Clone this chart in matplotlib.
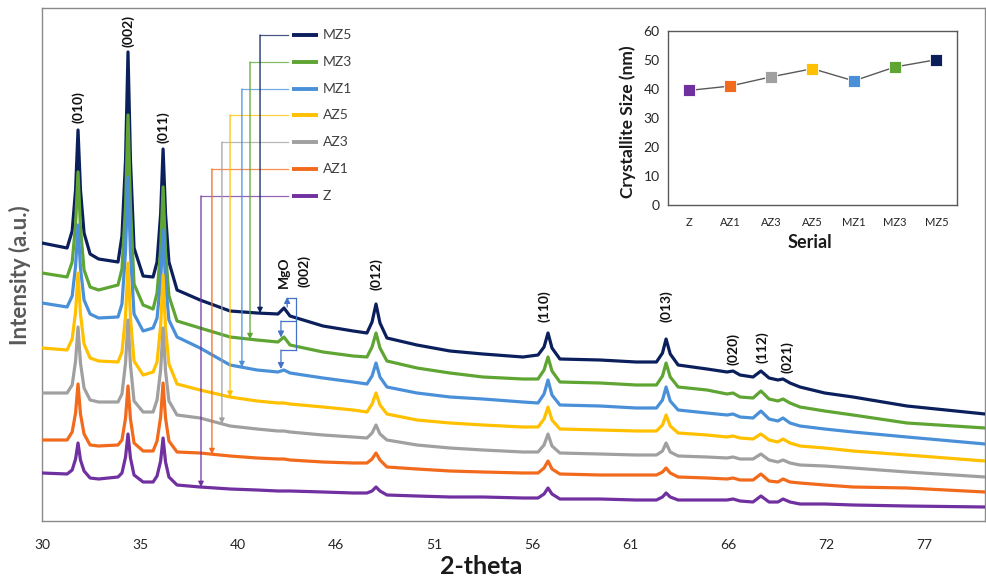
import numpy as np
import matplotlib
matplotlib.use('Agg')
import matplotlib.pyplot as plt

plt.rcParams['font.family'] = ['Lato', 'DejaVu Sans']

# ---------------- data ----------------
two_theta = [30.00, 31.33, 31.60, 31.78, 31.91, 32.04, 32.23, 32.55, 33.00, 34.03,
             34.24, 34.43, 34.56, 34.69, 34.88, 35.36, 35.89, 36.10, 36.29, 36.42,
             36.55, 36.73, 37.16, 38.38, 39.97, 41.40, 42.51, 42.83, 43.15, 44.90,
             46.50, 47.23, 47.50, 47.71, 47.92, 48.29, 49.88, 51.63, 53.38, 55.50,
             56.30, 56.62, 56.83, 57.04, 57.46, 59.59, 61.50, 62.58, 62.90, 63.09,
             63.31, 63.73, 65.26, 66.32, 66.64, 67.01, 67.70, 68.12, 68.55, 69.02,
             69.29, 69.66, 70.19, 71.50, 73.00, 75.86, 80.00]

MZ5 = [278, 273, 290, 331, 391, 331, 288, 267, 262, 259,
       285, 361, 469, 361, 273, 245, 244, 259, 307, 372,
       307, 259, 231, 221, 210, 208, 207, 213, 205, 195,
       190, 188, 199, 217, 198, 183, 176, 170, 167, 164,
       166, 174, 188, 173, 162, 161, 159, 159, 168, 182,
       167, 156, 152, 149, 150, 146, 144, 150, 143, 141,
       142, 138, 134, 128, 124, 115, 107]
MZ3 = [248, 244, 259, 296, 349, 293, 251, 234, 231, 236,
       252, 315, 406, 315, 237, 216, 212, 228, 271, 334,
       269, 225, 200, 193, 184, 181, 179, 184, 176, 169,
       165, 164, 174, 188, 173, 160, 153, 148, 144, 142,
       142, 151, 164, 150, 139, 138, 136, 136, 145, 158,
       144, 134, 131, 127, 128, 124, 123, 130, 122, 120,
       122, 118, 114, 110, 106, 98, 93]
MZ1 = [218, 214, 225, 255, 296, 253, 221, 207, 203, 204,
       217, 270, 344, 268, 207, 190, 193, 203, 240, 291,
       238, 201, 184, 173, 156, 151, 149, 151, 148, 143,
       139, 137, 145, 158, 144, 134, 128, 124, 122, 119,
       118, 127, 141, 126, 116, 115, 113, 113, 121, 134,
       120, 111, 108, 106, 107, 104, 103, 110, 102, 100,
       103, 98, 95, 92, 89, 84, 77]
AZ5 = [173, 171, 182, 209, 248, 207, 177, 163, 160, 159,
       169, 205, 258, 203, 160, 146, 149, 159, 195, 246,
       193, 157, 137, 131, 124, 120, 118, 118, 117, 114,
       111, 109, 117, 128, 116, 107, 101, 98, 96, 94,
       94, 102, 114, 101, 92, 91, 90, 90, 96, 106,
       95, 88, 86, 84, 85, 83, 82, 87, 81, 79,
       82, 78, 75, 73, 70, 66, 60]
AZ3 = [128, 128, 136, 160, 194, 158, 133, 121, 119, 119,
       127, 158, 201, 156, 120, 109, 109, 121, 151, 193,
       150, 120, 106, 103, 95, 92, 90, 90, 89, 86,
       84, 83, 88, 96, 87, 81, 76, 73, 71, 69,
       69, 76, 87, 75, 68, 67, 66, 66, 70, 78,
       69, 65, 64, 63, 64, 62, 62, 67, 61, 59,
       61, 58, 56, 55, 53, 49, 44]
AZ1 = [81, 81, 89, 108, 137, 107, 87, 76, 75, 76,
       81, 103, 135, 102, 78, 70, 70, 80, 104, 138,
       103, 80, 69, 68, 65, 63, 62, 62, 61, 59,
       58, 58, 62, 68, 61, 54, 52, 50, 49, 48,
       48, 53, 60, 52, 47, 46, 46, 46, 49, 53,
       48, 44, 43, 42, 43, 41, 41, 47, 40, 39,
       42, 39, 38, 36, 34, 33, 29]
Z = [48, 47, 51, 62, 78, 61, 50, 43, 42, 44,
     48, 64, 87, 63, 46, 39, 39, 45, 60, 83,
     59, 44, 36, 34, 32, 31, 30, 30, 30, 29,
     28, 28, 30, 34, 30, 26, 25, 24, 24, 23,
     23, 27, 33, 27, 22, 22, 21, 21, 24, 28,
     24, 21, 21, 21, 22, 20, 19, 25, 19, 19,
     22, 19, 17, 17, 16, 15, 14]

series_names = ['Z', 'AZ1', 'AZ3', 'AZ5', 'MZ1', 'MZ3', 'MZ5']
series_values = [Z, AZ1, AZ3, AZ5, MZ1, MZ3, MZ5]
series_colors = ['#7030A0', '#F26A1B', '#A0A0A0', '#FFC000', '#4A90D9', '#5FA533', '#0B1F5C']

tick_pos = [30, 35.2, 40.4, 45.6, 50.8, 56.0, 61.2, 66.4, 71.6, 76.8]
tick_labels = ['30', '35', '40', '46', '51', '56', '61', '66', '72', '77']

peak_labels = ['(010)', '(002)', '(011)', '(012)', '(110)', '(013)', '(020)', '(112)', '(021)']
peak_pos = [31.91, 34.56, 36.42, 47.71, 56.62, 63.09, 66.64, 68.17, 69.50]

crystallite_size = [39.5, 41.0, 44.2, 47.0, 42.8, 47.6, 50.1]

# ---------------- figure ----------------
fig = plt.figure(figsize=(9.87, 5.80), dpi=100)
W, H = 987.0, 580.0
ax = fig.add_axes([42 / W, 59 / H, 943 / W, 513 / H])
ax.set_xlim(30, 80)
ax.set_ylim(0, 513)

x = np.array(two_theta)
for i in range(len(series_names) - 1, -1, -1):
    ax.plot(x, series_values[i], color=series_colors[i], lw=2.3,
            solid_joinstyle='round', zorder=3 + (6 - i))

for sp in ax.spines.values():
    sp.set_color('#8a8a8a')
    sp.set_linewidth(1.0)
ax.set_yticks([])
ax.set_xticks(tick_pos)
ax.set_xticklabels(tick_labels, fontsize=10, color='#262626')
ax.tick_params(axis='x', length=0, pad=13)

fig.text(481 / W, 1 - 567 / H, '2-theta', fontsize=18, fontweight='bold',
         color='#1a1a1a', ha='center', va='center')
fig.text(20 / W, 1 - 275 / H, 'Intensity (a.u.)', fontsize=16, fontweight='bold',
         color='#595959', ha='center', va='center', rotation=90)

# peak labels above the top curve (placed over the local maximum)
label_offsets = [7, 5, 6, 14, 11, 17, 6, 8, 6]
top_curve = np.array(MZ5)
for lab, p, off in zip(peak_labels, peak_pos, label_offsets):
    near = np.abs(x - p) <= 0.35
    yv = top_curve[near].max() + off
    ax.text(p, yv, lab, rotation=90, ha='center', va='bottom', fontsize=10,
            fontweight='bold', color='#111111', zorder=12)

# MgO (002) annotation
ax.text(42.83, 249, 'MgO', rotation=90, ha='center', va='center', fontsize=10,
        fontweight='bold', color='#111111', zorder=12)
ax.text(43.90, 250, '(002)', rotation=90, ha='center', va='center', fontsize=10,
        fontweight='bold', color='#111111', zorder=12)
mg_c = '#4472C4'
x_br = 43.47
ax.plot([x_br, x_br], [223, 171], color=mg_c, lw=0.9, zorder=11)
ax.plot([x_br, 43.0], [223, 223], color=mg_c, lw=0.9, zorder=11)
ax.annotate('', xy=(43.0, 224), xytext=(43.0, 214),
            arrowprops=dict(arrowstyle='-|>', color=mg_c, lw=0.9, mutation_scale=9,
                            shrinkA=0, shrinkB=0), zorder=11)
for yb, curve in [(200, MZ3), (171, MZ1)]:
    tip = np.interp(42.67, x, curve) + 2
    ax.plot([x_br, 42.67], [yb, yb], color=mg_c, lw=0.9, zorder=11)
    ax.annotate('', xy=(42.67, tip), xytext=(42.67, yb),
                arrowprops=dict(arrowstyle='-|>', color=mg_c, lw=0.9, mutation_scale=9,
                                shrinkA=0, shrinkB=0), zorder=11)

# custom legend with leader arrows
leg_y = [325, 352, 379, 406, 432, 459, 486]
lead_x = [38.43, 39.01, 39.54, 39.97, 40.60, 41.03, 41.56]
for i, name in enumerate(series_names):
    c = series_colors[i]
    ly = leg_y[i]
    ax.plot([43.04, lead_x[i]], [ly, ly], color=c, lw=0.9, alpha=0.75, zorder=10)
    tip = np.interp(lead_x[i], x, series_values[i])
    ax.annotate('', xy=(lead_x[i], tip), xytext=(lead_x[i], ly),
                arrowprops=dict(arrowstyle='-|>', color=c, lw=0.9, mutation_scale=8,
                                shrinkA=0, shrinkB=0), zorder=10)
    ax.plot([43.26, 44.63], [ly, ly], color=c, lw=2.8, solid_capstyle='butt', zorder=10)
    ax.text(44.90, ly, name, fontsize=10, color='#404040', ha='left', va='center', zorder=10)

# ---------------- inset ----------------
ins = fig.add_axes([668 / W, (580 - 205) / H, 289 / W, 174 / H])
ins.set_facecolor('white')
pos = np.arange(len(series_names))
ins.plot(pos, crystallite_size, color='#595959', lw=1.0, zorder=2)
for i in range(len(series_names)):
    ins.plot(pos[i], crystallite_size[i], marker='s', markersize=8.5,
             color=series_colors[i], markeredgecolor='white', markeredgewidth=0.6, zorder=3)
ins.set_xlim(-0.5, 6.5)
ins.set_ylim(0, 60)
ins.set_yticks([0, 10, 20, 30, 40, 50, 60])
ins.set_xticks(pos)
ins.set_xticklabels(series_names, fontsize=8, color='#262626')
ins.tick_params(axis='y', length=0, pad=6, labelsize=10, labelcolor='#262626')
ins.tick_params(axis='x', length=0, pad=9)
for sp in ins.spines.values():
    sp.set_color('#595959')
    sp.set_linewidth(1.0)
fig.text(628 / W, 1 - 122 / H, 'Crystallite Size (nm)', fontsize=12.5, fontweight='bold',
         color='#1a1a1a', ha='center', va='center', rotation=90)
fig.text(810 / W, 1 - 243 / H, 'Serial', fontsize=13, fontweight='bold',
         color='#1a1a1a', ha='center', va='center')

fig.savefig('out.png', dpi=100)
